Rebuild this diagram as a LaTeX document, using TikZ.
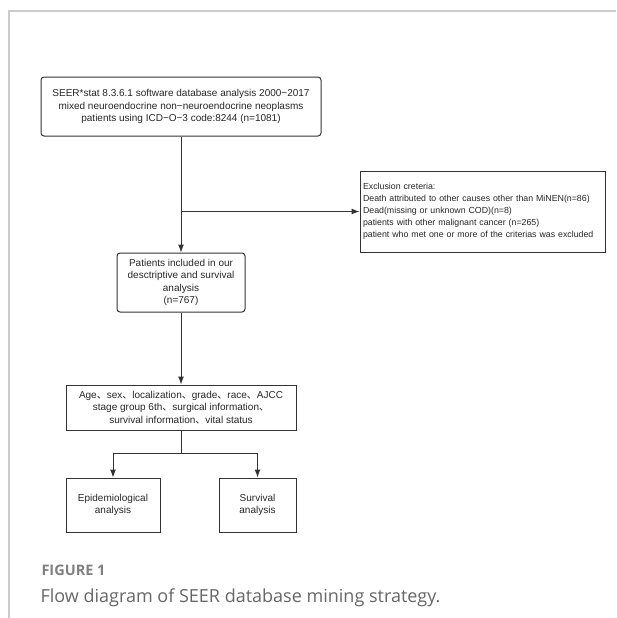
\documentclass[tikz,border=0pt]{standalone}
\usepackage{fontspec}
\usetikzlibrary{arrows.meta}
\setmainfont{Liberation Sans}
\newfontfamily\capfont{Open Sans}
\newfontfamily\cjk{Noto Sans CJK SC}
\newcommand{\dun}{{\cjk 、}}
\tikzset{
  box/.style={draw=black!80,line width=1pt,align=center,inner sep=3pt,
    font=\fontsize{10}{12.6}\selectfont,text=black!85},
  rbox/.style={box,rounded corners=3pt},
  link/.style={draw=black!80,line width=1pt},
  flow/.style={link,->,>={Latex[length=8pt,width=6pt]}}
}
\begin{document}
\begin{tikzpicture}[x=1pt,y=-1pt]
\useasboundingbox (0,0) rectangle (616,618);
\draw[black!20,line width=1.5pt](616,11)--(9,11)--(9,618);
\node[rbox,minimum width=280,minimum height=59](seer) at(181,106.5)
  {SEER*stat 8.3.6.1 software database analysis 2000−2017\\
   mixed neuroendocrine non−neuroendocrine neoplasms\\
   patients using ICD−O−3 code:8244 (n=1081)};
\node[box,minimum width=245,minimum height=81,text width=239,align=left,
  inner xsep=3pt,font=\fontsize{8.8}{12}\selectfont](excl) at(482.5,211.5)
  {Exclusion creteria:\\
   Death attributed to other causes other than MiNEN(n=86)\\
   Dead(missing or unknown COD)(n=8)\\
   patients with other malignant cancer (n=265)\\
   patient who met one or more of the criterias was excluded};
\node[rbox,minimum width=128,minimum height=59](incl) at(181,282.5)
  {Patients included in our\\desctriptive and survival\\analysis\\(n=767)};
\node[box,minimum width=230,minimum height=45](vars) at(181,407.5)
  {Age\dun sex\dun localization\dun grade\dun race\dun AJCC\\
   stage group 6th\dun surgical information\dun\\
   survival information\dun vital status};
\node[box,minimum width=94,minimum height=54](epi) at(113,505)
  {Epidemiological\\analysis};
\node[box,minimum width=77,minimum height=54](surv) at(257.5,505)
  {Survival\\analysis};
\coordinate(split) at(181,453);
\draw[flow](seer)--(incl);
\draw[flow](excl.west -| incl)--(excl.west);
\draw[flow](incl)--(vars);
\draw[link](vars)--(split);
\draw[flow](split)-|(epi);
\draw[flow](split)-|(surv);
\node[anchor=base west,font=\capfont\bfseries\fontsize{14.5}{16}\selectfont,
  text=black!50](fig) at(38,575){FIGURE 1};
\node[anchor=base west,font=\capfont\fontsize{18}{20}\selectfont,
  text=black!60](cap) at(37,602){Flow diagram of SEER database mining strategy.};
\end{tikzpicture}
\end{document}
